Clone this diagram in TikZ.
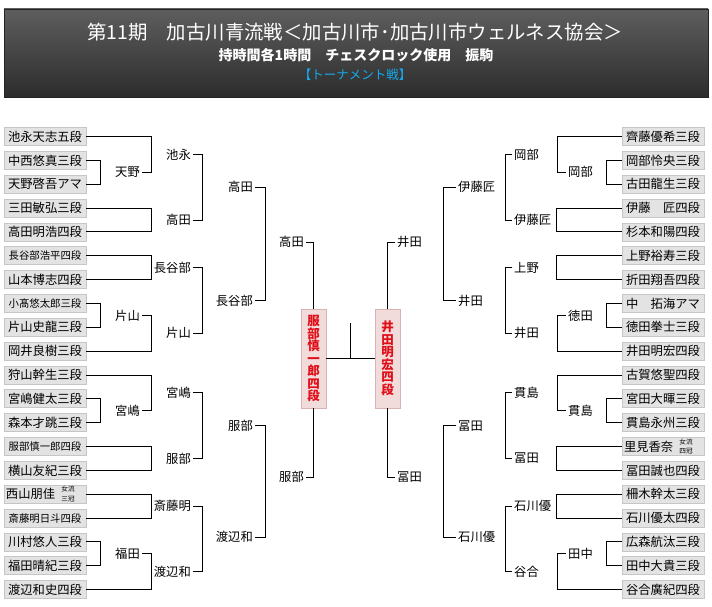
\documentclass[tikz,border=0pt]{standalone}
\usepackage{fontspec}
\setmainfont{Noto Sans CJK JP}
\usetikzlibrary{calc}
\definecolor{boxfill}{HTML}{E3E3E3}
\definecolor{boxline}{HTML}{C6C6C6}
\definecolor{pinkfill}{HTML}{F2DCDB}
\definecolor{pinkline}{HTML}{D9B3B3}
\definecolor{redtext}{HTML}{E0101A}
\definecolor{cyantext}{HTML}{14AAEE}
\definecolor{hdtop}{HTML}{5E5E5E}
\definecolor{hdbot}{HTML}{2C2C2C}
\newcommand{\fs}[1]{\fontsize{#1}{#1}\selectfont}
\tikzset{
  pbox/.style={draw=boxline, fill=boxfill, line width=0.8pt, minimum width=82pt, minimum height=18pt, inner sep=0pt, font=\fs{12.3}},
  pboxs/.style={pbox, font=\fs{10.4}},
  tiny/.style={inner sep=0pt, font=\fs{6.6}},
  labL/.style={anchor=east, inner xsep=2pt, inner ysep=0pt, font=\fs{12.3}},
  labR/.style={anchor=west, inner xsep=2pt, inner ysep=0pt, font=\fs{12.3}},
  conn/.style={draw=black, line width=1pt},
  finbox/.style={draw=pinkline, fill=pinkfill, line width=0.8pt, minimum width=25pt, minimum height=99pt, inner sep=0pt, align=center, text=redtext, font=\fs{12.5}\bfseries}
}
\begin{document}
\begin{tikzpicture}[x=1pt,y=-1pt]
\useasboundingbox (0,0) rectangle (712,607);
\fill[white] (0,0) rectangle (712,607);
% header
\shade[top color=hdtop, bottom color=hdbot] (4,9) rectangle (708,97);
\draw[hdbot!80!black, line width=0.8pt] (4,9) rectangle (708,97);
\node[text=white, font=\fs{19.4}] (t1) at (355,32) {第11期　加古川青流戦＜加古川市･加古川市ウェルネス協会＞};
\node[text=white, font=\fs{14}\bfseries] (t2) at (356,55) {持時間各1時間　チェスクロック使用　振駒};
\node[text=cyantext, font=\fs{12.5}] (t3) at (355,75) {【トーナメント戦】};
% left players
\node[pbox] (L1) at (45,136.5) {池永天志五段};
\node[pbox] (L2) at (45,160.35) {中西悠真三段};
\node[pbox] (L3) at (45,184.2) {天野啓吾アマ};
\node[pbox] (L4) at (45,208.05) {三田敏弘三段};
\node[pbox] (L5) at (45,231.9) {高田明浩四段};
\node[pboxs] (L6) at (45,255.75) {長谷部浩平四段};
\node[pbox] (L7) at (45,279.6) {山本博志四段};
\node[pboxs] (L8) at (45,303.45) {小髙悠太郎三段};
\node[pbox] (L9) at (45,327.3) {片山史龍三段};
\node[pbox] (L10) at (45,351.15) {岡井良樹三段};
\node[pbox] (L11) at (45,375) {狩山幹生三段};
\node[pbox] (L12) at (45,398.85) {宮嶋健太三段};
\node[pbox] (L13) at (45,422.7) {森本才跳三段};
\node[pboxs] (L14) at (45,446.55) {服部慎一郎四段};
\node[pbox] (L15) at (45,470.4) {横山友紀三段};
\node[pbox] (L16) at (45,494.25) {\makebox[80pt][l]{\hspace{1pt}西山朋佳}};
\node[tiny] (L16a) at (68,489.25) {女流};
\node[tiny] (L16b) at (68,499.25) {三冠};
\node[pboxs] (L17) at (45,518.1) {斎藤明日斗四段};
\node[pbox] (L18) at (45,541.95) {川村悠人三段};
\node[pbox] (L19) at (45,565.8) {福田晴紀三段};
\node[pbox] (L20) at (45,589.65) {渡辺和史四段};
% right players
\node[pbox] (R1) at (663,136.5) {齊藤優希三段};
\node[pbox] (R2) at (663,160.35) {岡部怜央三段};
\node[pbox] (R3) at (663,184.2) {古田龍生三段};
\node[pbox] (R4) at (663,208.05) {伊藤　匠四段};
\node[pbox] (R5) at (663,231.9) {杉本和陽四段};
\node[pbox] (R6) at (663,255.75) {上野裕寿三段};
\node[pbox] (R7) at (663,279.6) {折田翔吾四段};
\node[pbox] (R8) at (663,303.45) {中　拓海アマ};
\node[pbox] (R9) at (663,327.3) {徳田拳士三段};
\node[pbox] (R10) at (663,351.15) {井田明宏四段};
\node[pbox] (R11) at (663,375) {古賀悠聖四段};
\node[pbox] (R12) at (663,398.85) {宮田大暉三段};
\node[pbox] (R13) at (663,422.7) {貫島永州三段};
\node[pbox] (R14) at (663,446.55) {\makebox[80pt][l]{\hspace{1pt}里見香奈}};
\node[tiny] (R14a) at (686,441.55) {女流};
\node[tiny] (R14b) at (686,451.55) {四冠};
\node[pbox] (R15) at (663,470.4) {冨田誠也四段};
\node[pbox] (R16) at (663,494.25) {柵木幹太三段};
\node[pbox] (R17) at (663,518.1) {石川優太四段};
\node[pbox] (R18) at (663,541.95) {広森航汰三段};
\node[pbox] (R19) at (663,565.8) {田中大貴三段};
\node[pbox] (R20) at (663,589.65) {谷合廣紀四段};
% left labels
\node[labL] (a1) at (142,172.3) {天野};
\node[labL] (a2) at (142,315.4) {片山};
\node[labL] (a3) at (142,410.8) {宮嶋};
\node[labL] (a4) at (142,553.9) {福田};
\node[labL] (b1) at (193,154.4) {池永};
\node[labL] (b2) at (193,220) {高田};
\node[labL] (b3) at (193,267.7) {長谷部};
\node[labL] (b4) at (193,333.3) {片山};
\node[labL] (b5) at (193,392.9) {宮嶋};
\node[labL] (b6) at (193,458.5) {服部};
\node[labL] (b7) at (193,506.2) {斎藤明};
\node[labL] (b8) at (193,571.8) {渡辺和};
\node[labL] (c1) at (255,187.2) {高田};
\node[labL] (c2) at (255,300.5) {長谷部};
\node[labL] (c3) at (255,425.7) {服部};
\node[labL] (c4) at (255,537) {渡辺和};
\node[labL] (d1) at (306,242) {高田};
\node[labL] (d2) at (306,477) {服部};
% right labels
\node[labR] (ra1) at (566,172.3) {岡部};
\node[labR] (ra2) at (566,315.4) {徳田};
\node[labR] (ra3) at (566,410.8) {貫島};
\node[labR] (ra4) at (566,553.9) {田中};
\node[labR] (rb1) at (512,154.4) {岡部};
\node[labR] (rb2) at (512,220) {伊藤匠};
\node[labR] (rb3) at (512,267.7) {上野};
\node[labR] (rb4) at (512,333.3) {井田};
\node[labR] (rb5) at (512,392.9) {貫島};
\node[labR] (rb6) at (512,458.5) {冨田};
\node[labR] (rb7) at (512,506.2) {石川優};
\node[labR] (rb8) at (512,571.8) {谷合};
\node[labR] (rc1) at (456,187.2) {伊藤匠};
\node[labR] (rc2) at (456,300.5) {井田};
\node[labR] (rc3) at (456,425.7) {冨田};
\node[labR] (rc4) at (456,537) {石川優};
\node[labR] (rd1) at (395,242) {井田};
\node[labR] (rd2) at (395,477) {冨田};
% finalists
\node[finbox] (PL) at (313.5,358.5) {服\\部\\慎\\一\\郎\\四\\段};
\node[finbox] (PR) at (387.5,358.5) {井\\田\\明\\宏\\四\\段};
% left connectors
\draw[conn] (L1.east) -| ([xshift=9pt]a1.east) -- (a1.east);
\draw[conn] (L2.east) -- ++(14,0) |- (L3.east);
\draw[conn] (L4.east) -- ++(65,0) |- (L5.east);
\draw[conn] (L6.east) -- ++(65,0) |- (L7.east);
\draw[conn] (L8.east) -- ++(14,0) |- (L9.east);
\draw[conn] (L10.east) -| ([xshift=9pt]a2.east) -- (a2.east);
\draw[conn] (L11.east) -| ([xshift=9pt]a3.east) -- (a3.east);
\draw[conn] (L12.east) -- ++(14,0) |- (L13.east);
\draw[conn] (L14.east) -- ++(65,0) |- (L15.east);
\draw[conn] (L16.east) -- ++(65,0) |- (L17.east);
\draw[conn] (L18.east) -- ++(14,0) |- (L19.east);
\draw[conn] (L20.east) -| ([xshift=9pt]a4.east) -- (a4.east);
\draw[conn] (b1.east) -- ++(9,0) |- (b2.east);
\draw[conn] (b3.east) -- ++(9,0) |- (b4.east);
\draw[conn] (b5.east) -- ++(9,0) |- (b6.east);
\draw[conn] (b7.east) -- ++(9,0) |- (b8.east);
\draw[conn] (c1.east) -- ++(10,0) |- (c2.east);
\draw[conn] (c3.east) -- ++(10,0) |- (c4.east);
\draw[conn] (d1.east) -| (PL.north);
\draw[conn] (d2.east) -| (PL.south);
% right connectors
\draw[conn] (R1.west) -| ([xshift=-9pt]ra1.west) -- (ra1.west);
\draw[conn] (R2.west) -- ++(-15,0) |- (R3.west);
\draw[conn] (R4.west) -- ++(-65,0) |- (R5.west);
\draw[conn] (R6.west) -- ++(-65,0) |- (R7.west);
\draw[conn] (R8.west) -- ++(-15,0) |- (R9.west);
\draw[conn] (R10.west) -| ([xshift=-9pt]ra2.west) -- (ra2.west);
\draw[conn] (R11.west) -| ([xshift=-9pt]ra3.west) -- (ra3.west);
\draw[conn] (R12.west) -- ++(-15,0) |- (R13.west);
\draw[conn] (R14.west) -- ++(-65,0) |- (R15.west);
\draw[conn] (R16.west) -- ++(-65,0) |- (R17.west);
\draw[conn] (R18.west) -- ++(-15,0) |- (R19.west);
\draw[conn] (R20.west) -| ([xshift=-9pt]ra4.west) -- (ra4.west);
\draw[conn] (rb1.west) -- ++(-7,0) |- (rb2.west);
\draw[conn] (rb3.west) -- ++(-7,0) |- (rb4.west);
\draw[conn] (rb5.west) -- ++(-7,0) |- (rb6.west);
\draw[conn] (rb7.west) -- ++(-7,0) |- (rb8.west);
\draw[conn] (rc1.west) -- ++(-13,0) |- (rc2.west);
\draw[conn] (rc3.west) -- ++(-13,0) |- (rc4.west);
\draw[conn] (rd1.west) -| (PR.north);
\draw[conn] (rd2.west) -| (PR.south);
% final
\draw[conn] (PL.east) -- (PR.west);
\coordinate (mid) at ($(PL.east)!0.5!(PR.west)$);
\draw[conn] (mid) -- ++(0,-36);
\end{tikzpicture}
\end{document}
